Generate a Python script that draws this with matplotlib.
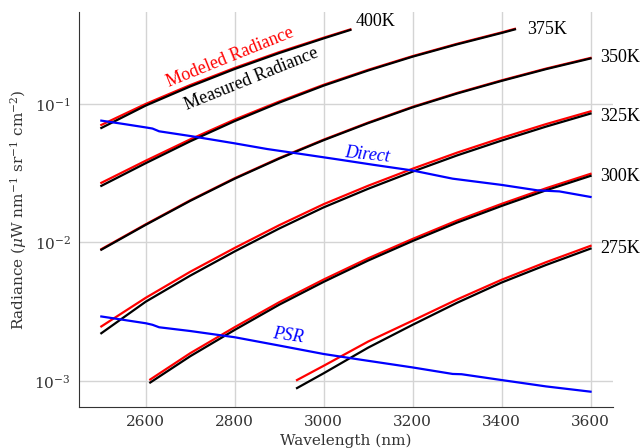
import matplotlib
matplotlib.use('Agg')
import numpy as np
import matplotlib.pyplot as plt

plt.rcParams['font.family'] = 'DejaVu Serif'
plt.rcParams['mathtext.fontset'] = 'dejavuserif'

# Wavelength grids (nm)
wl_400 = [2500, 2600, 2700, 2800, 2900, 3000, 3060]
wl_375 = [2500, 2600, 2700, 2800, 2900, 3000, 3100, 3200, 3300, 3400, 3430]
wl_350 = [2500, 2600, 2700, 2800, 2900, 3000, 3100, 3200, 3300, 3400, 3500, 3600]
wl_325 = [2500, 2600, 2700, 2800, 2900, 3000, 3100, 3200, 3300, 3400, 3500, 3600]
wl_300 = [2610, 2700, 2800, 2900, 3000, 3100, 3200, 3300, 3400, 3500, 3600]
wl_275 = [2940, 3000, 3100, 3200, 3300, 3400, 3500, 3600]

# log10 of modeled radiance (red)
mod_400 = [-1.152, -1.000, -0.864, -0.740, -0.626, -0.522, -0.462]
mod_375 = [-1.570, -1.410, -1.256, -1.113, -0.983, -0.862, -0.754, -0.655, -0.566, -0.484, -0.458]
mod_350 = [-2.049, -1.869, -1.696, -1.536, -1.391, -1.258, -1.135, -1.021, -0.921, -0.830, -0.745, -0.668]
mod_325 = [-2.607, -2.400, -2.212, -2.040, -1.876, -1.724, -1.591, -1.468, -1.352, -1.246, -1.146, -1.054]
mod_300 = [-2.990, -2.800, -2.612, -2.432, -2.268, -2.115, -1.975, -1.842, -1.722, -1.609, -1.505]
mod_275 = [-2.994, -2.891, -2.716, -2.565, -2.412, -2.270, -2.143, -2.025]

# log10 of measured radiance (black)
meas_400 = [-1.174, -1.012, -0.874, -0.748, -0.633, -0.527, -0.466]
meas_375 = [-1.592, -1.428, -1.270, -1.124, -0.991, -0.868, -0.759, -0.659, -0.570, -0.488, -0.462]
meas_350 = [-2.053, -1.873, -1.700, -1.540, -1.395, -1.262, -1.139, -1.025, -0.925, -0.834, -0.749, -0.672]
meas_325 = [-2.656, -2.428, -2.240, -2.065, -1.900, -1.747, -1.613, -1.489, -1.372, -1.265, -1.164, -1.070]
meas_300 = [-3.012, -2.822, -2.632, -2.450, -2.285, -2.131, -1.990, -1.857, -1.737, -1.624, -1.520]
meas_275 = [-3.052, -2.945, -2.760, -2.595, -2.436, -2.290, -2.163, -2.045]

# Direct and PSR (blue), log10 radiance
wl_direct = [2500, 2550, 2600, 2615, 2630, 2700, 2800, 2873, 2950, 3030,
             3112, 3200, 3270, 3290, 3400, 3480, 3530, 3600]
direct = [-1.121, -1.145, -1.170, -1.178, -1.198, -1.232, -1.285, -1.326, -1.362,
          -1.400, -1.440, -1.481, -1.527, -1.540, -1.585, -1.624, -1.632, -1.672]
wl_psr = [2500, 2600, 2615, 2630, 2700, 2800, 2900, 3000, 3083, 3200,
          3290, 3310, 3400, 3500, 3600]
psr = [-2.535, -2.584, -2.595, -2.613, -2.640, -2.685, -2.745, -2.806,
       -2.847, -2.903, -2.950, -2.952, -2.994, -3.040, -3.078]

temp_labels = ['400K', '375K', '350K', '325K', '300K', '275K']
label_x = [3072, 3458, 3622, 3622, 3622, 3622]
label_y = [0.395, 0.346, 0.217, 0.081, 0.030, 0.0091]

fig = plt.figure(figsize=(6.43, 4.48), dpi=100)
ax = fig.add_axes([0.123, 0.092, 0.830, 0.881])

wls = [wl_400, wl_375, wl_350, wl_325, wl_300, wl_275]
mods = [mod_400, mod_375, mod_350, mod_325, mod_300, mod_275]
meas = [meas_400, meas_375, meas_350, meas_325, meas_300, meas_275]
for w, m, r in zip(wls, mods, meas):
    ax.plot(w, np.power(10.0, m), color='red', lw=1.6, zorder=3)
    ax.plot(w, np.power(10.0, r), color='black', lw=1.6, zorder=4)

ax.plot(wl_direct, np.power(10.0, direct), color='blue', lw=1.6, zorder=5)
ax.plot(wl_psr, np.power(10.0, psr), color='blue', lw=1.6, zorder=5)

ax.set_yscale('log')
ax.set_xlim(2450, 3650)
ax.set_ylim(6.5e-4, 0.46)
ax.set_xticks([2600, 2800, 3000, 3200, 3400, 3600])
ax.set_yticks([1e-3, 1e-2, 1e-1])
ax.minorticks_off()
ax.grid(True, color='#d4d4d4', lw=1.0)
ax.set_axisbelow(True)
ax.tick_params(length=0, labelsize=11, labelcolor='#333333', pad=6)
for s in ['top', 'right']:
    ax.spines[s].set_visible(False)
for s in ['left', 'bottom']:
    ax.spines[s].set_color('#333333')

ax.set_xlabel('Wavelength (nm)', fontsize=11, color='#333333', labelpad=3)
ax.set_ylabel(r'Radiance ($\mu$W nm$^{-1}$ sr$^{-1}$ cm$^{-2}$)', fontsize=11,
              color='#333333')

tfont = 'Liberation Serif'
for t, x, y in zip(temp_labels, label_x, label_y):
    ax.text(x, y, t, fontsize=13, family=tfont, va='center', ha='left', clip_on=False)

ax.text(2789, 0.217, 'Modeled Radiance', color='red', fontsize=13, family=tfont,
        rotation=22, ha='center', va='center')
ax.text(2838, 0.150, 'Measured Radiance', color='black', fontsize=13, family=tfont,
        rotation=22, ha='center', va='center')
ax.text(3097, 0.0428, 'Direct', color='blue', fontsize=13, family=tfont,
        style='italic', rotation=-6, ha='center', va='center')
ax.text(2919, 0.00212, 'PSR', color='blue', fontsize=13, family=tfont,
        style='italic', rotation=-8, ha='center', va='center')

fig.savefig('out.png', dpi=100)
